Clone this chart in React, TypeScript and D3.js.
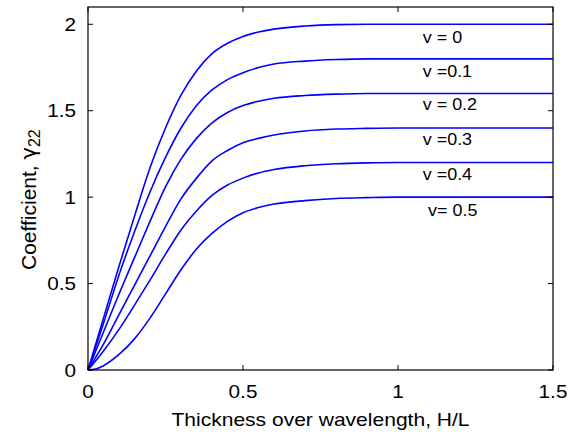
import React from "react";
import * as d3 from "d3";

const xs = [0, 0.025, 0.05, 0.1, 0.15, 0.2, 0.25, 0.3, 0.35, 0.4, 0.45, 0.5, 0.55, 0.6, 0.7, 0.8, 0.9, 1.0, 1.2, 1.5];

const v0 = [0, 0.15, 0.30, 0.60, 0.89, 1.17, 1.40, 1.59, 1.73, 1.83, 1.89, 1.93, 1.955, 1.972, 1.99, 1.998, 2.0, 2.0, 2.0, 2.0];
const v1 = [0, 0.135, 0.27, 0.55, 0.80, 1.03, 1.23, 1.40, 1.53, 1.62, 1.68, 1.72, 1.75, 1.77, 1.787, 1.796, 1.8, 1.8, 1.8, 1.8];
const v2 = [0, 0.11, 0.22, 0.44, 0.65, 0.86, 1.06, 1.22, 1.34, 1.43, 1.49, 1.53, 1.555, 1.572, 1.588, 1.596, 1.6, 1.6, 1.6, 1.6];
const v3 = [0, 0.074, 0.15, 0.32, 0.49, 0.66, 0.83, 0.99, 1.11, 1.21, 1.27, 1.315, 1.34, 1.36, 1.383, 1.394, 1.398, 1.4, 1.4, 1.4];
const v4 = [0, 0.053, 0.11, 0.235, 0.375, 0.52, 0.67, 0.81, 0.92, 1.01, 1.07, 1.11, 1.14, 1.16, 1.182, 1.193, 1.198, 1.2, 1.2, 1.2];
const v5 = [0, 0.006, 0.025, 0.09, 0.18, 0.30, 0.44, 0.58, 0.70, 0.79, 0.86, 0.91, 0.94, 0.96, 0.98, 0.992, 0.997, 1.0, 1.0, 1.0];
const series = [v0, v1, v2, v3, v4, v5];

const labels = ["v = 0", "v =0.1", "v = 0.2", "v =0.3", "v =0.4", "v= 0.5"];
const labelX = [1.08, 1.08, 1.08, 1.08, 1.08, 1.097];
const labelY = [1.925, 1.728, 1.538, 1.335, 1.133, 0.925];

const xTicks = [0, 0.5, 1, 1.5];
const yTicks = [0, 0.5, 1, 1.5, 2];

const W = 573, H = 434;
const L = 88, R = 553, T = 7, B = 370;
const SX = 1.12;

export default function App() {
  const x = d3.scaleLinear().domain([0, 1.5]).range([L, R]);
  const y = d3.scaleLinear().domain([0, 2.1]).range([B, T]);
  const line = d3.line<number>().x((_, i) => x(xs[i])).y((d) => y(d)).curve(d3.curveMonotoneX);
  const font = "Liberation Sans, Arial, Helvetica, sans-serif";
  return (
    <svg width={W} height={H} style={{ position: "absolute", left: 0, top: 0, background: "#fff" }} fontFamily={font}>
      <rect x={0} y={0} width={W} height={H} fill="#fff" />
      {series.map((s, i) => (
        <path key={i} d={line(s) || ""} fill="none" stroke="#0000ff" strokeWidth={1.6} />
      ))}
      <rect x={L} y={T} width={R - L} height={B - T} fill="none" stroke="#000" strokeWidth={1.2} />
      {xTicks.map((t) => (
        <g key={"x" + t}>
          <line x1={x(t)} x2={x(t)} y1={B} y2={B - 5} stroke="#000" />
          <line x1={x(t)} x2={x(t)} y1={T} y2={T + 5} stroke="#000" />
          <text transform={`translate(${x(t)},398) scale(${SX},1)`} fontSize={18.5} textAnchor="middle">{String(t)}</text>
        </g>
      ))}
      {yTicks.map((t) => (
        <g key={"y" + t}>
          <line x1={L} x2={L + 5} y1={y(t)} y2={y(t)} stroke="#000" />
          <line x1={R} x2={R - 5} y1={y(t)} y2={y(t)} stroke="#000" />
          <text transform={`translate(${L - 12},${y(t) + 6.5}) scale(${SX},1)`} fontSize={18.5} textAnchor="end">{String(t)}</text>
        </g>
      ))}
      {labels.map((lab, i) => (
        <text key={lab} transform={`translate(${x(labelX[i])},${y(labelY[i]) + 5.5}) scale(${SX},1)`} fontSize={16}>{lab}</text>
      ))}
      <text transform={`translate(${(L + R) / 2},426) scale(${SX},1)`} fontSize={18.8} textAnchor="middle">Thickness over wavelength, H/L</text>
      <text transform={`translate(36,270) rotate(-90)`} fontSize={21}>
        Coefficient, <tspan fontFamily="DejaVu Sans">γ</tspan><tspan fontSize={16} dy={4}>22</tspan>
      </text>
    </svg>
  );
}
